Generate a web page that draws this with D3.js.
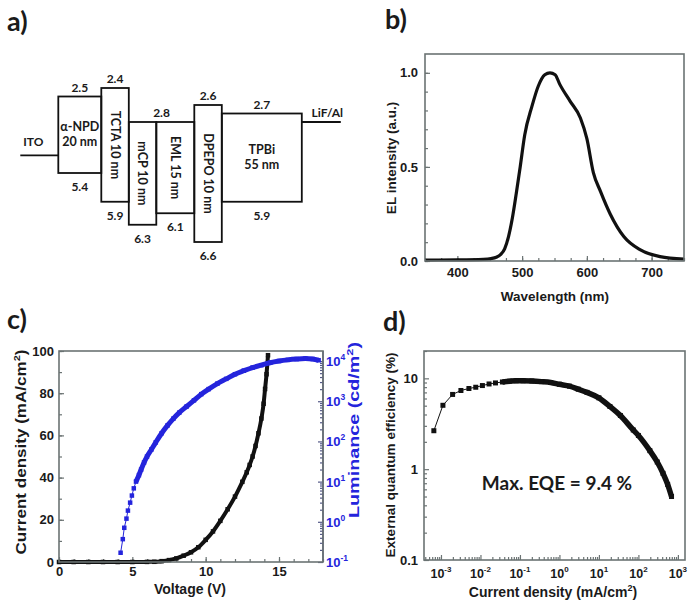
<!DOCTYPE html>
<html><head><meta charset="utf-8">
<script src="https://cdn.jsdelivr.net/npm/d3@7"></script>
<style>
body{margin:0;background:#fff}
svg{display:block}
text{font-family:"Liberation Sans",Arial,Helvetica,sans-serif;font-weight:bold;fill:#1a1a1a}
.cal{font-family:Lato,"Open Sans",sans-serif;font-weight:bold}
</style>
</head><body><svg id="fig" width="698" height="612"></svg>
<script>
// ---------- Panel a: energy level diagram ----------
const layerNames = ["α-NPD|20 nm", "TCTA 10 nm", "mCP 10 nm", "EML 15 nm", "DPEPO 10 nm", "TPBi|55 nm"];
const layerThick = [20, 10, 10, 15, 10, 55];
const layerLUMO = [2.5, 2.4, 2.8, 2.8, 2.6, 2.7];
const layerHOMO = [5.4, 5.9, 6.3, 6.1, 6.6, 5.9];
const layerRotated = [false, true, true, true, true, false];
const electrodeNames = ["ITO", "LiF/Al"];
const electrodeLevels = [4.5, 2.8];

// ---------- Panel b: EL spectrum ----------
const elWavelength = [350, 400, 440, 452, 460, 467, 473, 479, 485, 491, 497, 504, 515, 525, 535, 543, 551, 558, 574, 590, 600, 610, 621, 636, 657, 682, 713, 750];
const elIntensity = [0.005, 0.006, 0.009, 0.013, 0.02, 0.035, 0.065, 0.13, 0.23, 0.36, 0.5, 0.67, 0.82, 0.93, 0.99, 1.0, 0.99, 0.94, 0.85, 0.76, 0.65, 0.47, 0.37, 0.25, 0.13, 0.06, 0.023, 0.01];
const bXTicks = [400, 500, 600, 700];
const bYTicks = [0, 0.5, 1.0];

// ---------- Panel c: J-V-L ----------
const jvVoltage = [0, 1, 2, 3, 4, 5, 6, 6.5, 7, 7.5, 8, 8.5, 9, 9.5, 10, 10.5, 11, 11.5, 12, 12.5, 12.8, 13.0, 13.2, 13.4, 13.6, 13.8, 13.95, 14.05, 14.15, 14.25];
const jvCurrent = [0, 0, 0, 0, 0, 0, 0.05, 0.1, 0.4, 0.9, 1.7, 3.0, 4.6, 7.0, 10.5, 14.5, 19.5, 25, 31, 38, 42.5, 46, 50, 55, 61, 68, 75, 82, 89, 98];
const lvVoltage = [4.2, 4.35, 4.45, 4.6, 4.7, 4.85, 4.97, 5.1, 5.25, 5.45, 5.6, 5.8, 6.0, 6.3, 6.6, 7.0, 7.4, 7.8, 8.2, 8.7, 9.2, 9.7, 10.2, 10.8, 11.4, 12.0, 12.6, 13.2, 13.8, 14.4, 15.0, 15.6, 16.2, 16.8, 17.3, 17.7];
const lvLuminance = [0.17, 0.37, 0.71, 1.2, 1.9, 3.0, 4.5, 6.8, 10, 14.5, 20, 30, 42, 63, 95, 160, 250, 370, 520, 740, 1050, 1500, 2000, 2750, 3600, 4700, 5750, 6900, 7900, 9100, 10000, 10700, 11200, 11500, 11200, 10500];
const cXTicks = [0, 5, 10, 15];
const cYTicks = [0, 20, 40, 60, 80, 100];
const cY2Exps = [-1, 0, 1, 2, 3, 4];

// ---------- Panel d: EQE ----------
const eqeCurrent = [6.6e-4, 1.12e-3, 1.97e-3, 3.2e-3, 5.1e-3, 7.6e-3, 1.12e-2, 1.65e-2, 2.4e-2, 3.6e-2, 5.5e-2, 8e-2, 0.12, 0.2, 0.35, 0.6, 1.0, 1.8, 3, 5, 10, 19, 35, 74, 100, 195, 300, 420, 550, 690];
const eqeValue = [2.65, 5.05, 6.65, 7.35, 7.73, 7.98, 8.33, 8.67, 8.9, 9.12, 9.3, 9.4, 9.4, 9.35, 9.2, 9.0, 8.6, 8.2, 7.6, 7.0, 6.1, 4.9, 3.9, 2.7, 2.35, 1.6, 1.2, 0.9, 0.68, 0.5];
const dXExps = [-3, -2, -1, 0, 1, 2, 3];
const dYTicks = [0.1, 1, 10];
const eqeNote = "Max. EQE = 9.4 %";

const svg = d3.select("#fig");
const AXC = "#6b7373";
const BLUE = "#2424dc";

[["a)", 7, 31], ["b)", 385, 29], ["c)", 7, 329], ["d)", 383, 331]].forEach(([t, x, y]) =>
  svg.append("text").attr("class", "cal").attr("x", x).attr("y", y).attr("font-size", 27).text(t));

// ================= Panel a =================
(function () {
  const g = svg.append("g");
  const yE = d3.scaleLinear().domain([2.4, 2.8, 5.4, 6.6]).range([88, 122, 173, 242]);
  const wS = d3.scaleLinear().domain([10, 15, 20, 55]).range([27.5, 38, 43, 80]);
  const x0 = 58.3, lead = 38;
  const widths = layerThick.map(wS);
  const lefts = widths.map((w, i) => x0 + d3.sum(widths.slice(0, i)));
  const xEnd = lefts[lefts.length - 1] + widths[widths.length - 1];
  layerThick.forEach((t, i) => {
    g.append("rect").attr("x", lefts[i]).attr("y", yE(layerLUMO[i]))
      .attr("width", widths[i]).attr("height", yE(layerHOMO[i]) - yE(layerLUMO[i]))
      .attr("stroke", "#111").attr("stroke-width", 1.8).attr("fill", "none");
    const cx = lefts[i] + widths[i] / 2;
    const cy = (yE(layerLUMO[i]) + yE(layerHOMO[i])) / 2;
    if (layerRotated[i]) {
      g.append("text").attr("class", "cal").attr("font-size", 12.5).attr("text-anchor", "middle")
        .attr("transform", `translate(${cx - 4.5},${cy}) rotate(90)`).text(layerNames[i]);
    } else {
      const parts = layerNames[i].split("|");
      parts.forEach((p, k) => g.append("text").attr("class", "cal").attr("font-size", 12.5)
        .attr("text-anchor", "middle").attr("x", cx).attr("y", cy + (k - 0.5) * 15 + 4).text(p));
    }
    if (!(i > 0 && layerLUMO[i] === layerLUMO[i - 1])) {
      let span = widths[i];
      if (i < layerLUMO.length - 1 && layerLUMO[i + 1] === layerLUMO[i]) span += widths[i + 1];
      g.append("text").attr("class", "cal").attr("font-size", 12).attr("text-anchor", "middle")
        .attr("x", lefts[i] + span / 2).attr("y", yE(layerLUMO[i]) - 5).text(layerLUMO[i].toFixed(1));
    }
    g.append("text").attr("class", "cal").attr("font-size", 12).attr("text-anchor", "middle")
      .attr("x", cx).attr("y", yE(layerHOMO[i]) + 18).text(layerHOMO[i].toFixed(1));
  });
  const ex = [[x0 - lead, x0], [xEnd, xEnd + 39]];
  electrodeLevels.forEach((e, i) => {
    g.append("line").attr("x1", ex[i][0]).attr("x2", ex[i][1]).attr("y1", yE(e)).attr("y2", yE(e))
      .attr("stroke", "#111").attr("stroke-width", 1.8);
    g.append("text").attr("class", "cal").attr("font-size", 12).attr("text-anchor", "middle")
      .attr("x", (ex[i][0] + ex[i][1]) / 2 + (i === 0 ? -6 : 6)).attr("y", yE(e) - (i === 0 ? 9 : 5)).text(electrodeNames[i]);
  });
})();

function frame(x0, y0, x1, y1, col) {
  svg.append("rect").attr("x", x0).attr("y", y0).attr("width", x1 - x0).attr("height", y1 - y0)
    .attr("fill", "none").attr("stroke", col || AXC).attr("stroke-width", 1.6);
}
function styleAxis(s, col) {
  s.select(".domain").remove();
  s.attr("font-family", null).attr("font-size", null);
  s.selectAll("line").attr("stroke", col || AXC).attr("stroke-width", 1.2);
  s.selectAll("text").attr("font-size", 13).attr("fill", "#1a1a1a");
}
function logMinors(lo, hi) {
  const out = [];
  for (let e = Math.floor(Math.log10(lo)); e <= Math.ceil(Math.log10(hi)); e++)
    for (let m = 2; m <= 9; m++) { const v = m * Math.pow(10, e); if (v >= lo && v <= hi) out.push(v); }
  return out;
}
function sqMarks(g, pts, size, col) {
  g.selectAll(null).data(pts).enter().append("rect")
    .attr("x", d => d[0] - size / 2).attr("y", d => d[1] - size / 2)
    .attr("width", size).attr("height", size).attr("fill", col);
}
function supText(g, str, sup, tail, attrs, supSize) {
  const t = g.append("text");
  Object.entries(attrs).forEach(([k, v]) => t.attr(k, v));
  t.append("tspan").text(str);
  t.append("tspan").attr("dy", -6).attr("font-size", supSize || 9).text(sup);
  if (tail) t.append("tspan").attr("dy", 6).text(tail);
  return t;
}

// ================= Panel b =================
(function () {
  const x = d3.scaleLinear().domain([350, 750]).range([425, 684]);
  const y = d3.scaleLinear().domain([0, 1.1]).range([261, 54]);
  const g = svg.append("g");
  g.append("g").attr("transform", "translate(0,261)")
    .call(d3.axisBottom(x).tickValues(d3.range(350, 751, 25)).tickSizeInner(-3).tickSizeOuter(0).tickFormat(""))
    .call(s => styleAxis(s));
  g.append("g").attr("transform", "translate(0,261)")
    .call(d3.axisBottom(x).tickValues(bXTicks).tickSizeInner(-5).tickSizeOuter(0).tickPadding(7))
    .call(s => styleAxis(s));
  g.append("g").attr("transform", "translate(425,0)")
    .call(d3.axisLeft(y).tickValues(d3.range(0, 1.1, 0.1)).tickSizeInner(-3).tickSizeOuter(0).tickFormat(""))
    .call(s => styleAxis(s));
  g.append("g").attr("transform", "translate(425,0)")
    .call(d3.axisLeft(y).tickValues(bYTicks).tickSizeInner(-5).tickSizeOuter(0).tickPadding(7).tickFormat(d3.format(".1f")))
    .call(s => styleAxis(s));
  frame(425, 54, 684, 261);
  const line = d3.line().x(d => x(d[0])).y(d => y(d[1])).curve(d3.curveMonotoneX);
  g.append("path").datum(elWavelength.map((w, i) => [w, elIntensity[i]]))
    .attr("d", line).attr("fill", "none").attr("stroke", "#111").attr("stroke-width", 3.2);
  g.append("text").attr("x", 555).attr("y", 301).attr("text-anchor", "middle").attr("font-size", 13.5).text("Wavelength (nm)");
  g.append("text").attr("transform", "translate(396,158) rotate(-90)").attr("text-anchor", "middle").attr("font-size", 13.5).text("EL intensity (a.u.)");
})();

// ================= Panel c =================
(function () {
  const x = d3.scaleLinear().domain([0, 18]).range([59, 323]);
  const y = d3.scaleLinear().domain([0, 100]).range([562, 351]);
  const y2 = d3.scaleLog().domain([0.1, Math.pow(10, 4.25)]).range([562, 351]);
  const g = svg.append("g");
  g.append("g").attr("transform", "translate(0,562)")
    .call(d3.axisBottom(x).tickValues(d3.range(0, 18.01, 1)).tickSizeInner(-3).tickSizeOuter(0).tickFormat(""))
    .call(s => styleAxis(s));
  g.append("g").attr("transform", "translate(0,562)")
    .call(d3.axisBottom(x).tickValues(cXTicks).tickSizeInner(-5).tickSizeOuter(0).tickPadding(5))
    .call(s => styleAxis(s));
  g.append("g").attr("transform", "translate(59,0)")
    .call(d3.axisLeft(y).tickValues(d3.range(0, 101, 10)).tickSizeInner(-3).tickSizeOuter(0).tickFormat(""))
    .call(s => styleAxis(s));
  g.append("g").attr("transform", "translate(59,0)")
    .call(d3.axisLeft(y).tickValues(cYTicks).tickSizeInner(-5).tickSizeOuter(0).tickPadding(5))
    .call(s => styleAxis(s));
  const ax2 = g.append("g").attr("transform", "translate(323,0)");
  ax2.append("g").call(d3.axisRight(y2).tickValues(logMinors(0.1, Math.pow(10, 4.25))).tickSizeInner(-3).tickSizeOuter(0).tickFormat(""))
    .call(s => styleAxis(s, "#555a88"));
  ax2.append("g").call(d3.axisRight(y2).tickValues(cY2Exps.map(e => Math.pow(10, e))).tickSizeInner(-5).tickSizeOuter(0).tickFormat(""))
    .call(s => styleAxis(s, "#555a88"));
  cY2Exps.forEach(e => {
    supText(ax2, "10", e, null, { x: 3, y: y2(Math.pow(10, e)) + 5, "font-size": 13 }, 8.5).style("fill", BLUE);
  });
  frame(59, 351, 323, 562);
  g.append("line").attr("x1", 323).attr("x2", 323).attr("y1", 351).attr("y2", 562).attr("stroke", "#555a88").attr("stroke-width", 1.6);

  const jv = jvVoltage.map((v, i) => [x(v), y(jvCurrent[i])]);
  g.append("path").datum(jv).attr("d", d3.line().curve(d3.curveMonotoneX))
    .attr("fill", "none").attr("stroke", "#111").attr("stroke-width", 4);
  sqMarks(g, jv, 4.5, "#111");
  const lv = lvVoltage.map((v, i) => [x(v), y2(lvLuminance[i])]);
  g.append("path").datum(lv).attr("d", d3.line()).attr("fill", "none").attr("stroke", BLUE).attr("stroke-width", 1);
  g.append("path").datum(lv.filter((p, i) => lvVoltage[i] >= 5.25)).attr("d", d3.line().curve(d3.curveMonotoneX))
    .attr("fill", "none").attr("stroke", BLUE).attr("stroke-width", 5);
  sqMarks(g, lv, 4.5, BLUE);

  g.append("text").attr("x", 190).attr("y", 594).attr("text-anchor", "middle").attr("font-size", 14).text("Voltage (V)");
  supText(g, "Current density (mA/cm", "2", ")", { transform: "translate(26,452) rotate(-90)", "text-anchor": "middle", "font-size": 14, textLength: 205, lengthAdjust: "spacingAndGlyphs" });
  supText(g, "Luminance (cd/m", "2", ")", { transform: "translate(359,430) rotate(-90)", "text-anchor": "middle", "font-size": 14, textLength: 176, lengthAdjust: "spacingAndGlyphs" }).style("fill", BLUE);
})();

// ================= Panel d =================
(function () {
  const x = d3.scaleLog().domain([Math.pow(10, -3.43), Math.pow(10, 3.18)]).range([424, 685]);
  const y = d3.scaleLog().domain([0.1, 20]).range([560, 351]);
  const g = svg.append("g");
  const xd = x.domain();
  g.append("g").attr("transform", "translate(0,560)")
    .call(d3.axisBottom(x).tickValues(logMinors(xd[0], xd[1])).tickSizeInner(-3).tickSizeOuter(0).tickFormat(""))
    .call(s => styleAxis(s));
  g.append("g").attr("transform", "translate(0,560)")
    .call(d3.axisBottom(x).tickValues(dXExps.map(e => Math.pow(10, e))).tickSizeInner(-5).tickSizeOuter(0).tickFormat(""))
    .call(s => styleAxis(s));
  dXExps.forEach(e => supText(g, "10", e, null, { x: x(Math.pow(10, e)), y: 578, "text-anchor": "middle", "font-size": 12.5 }, 8));
  g.append("g").attr("transform", "translate(424,0)")
    .call(d3.axisLeft(y).tickValues(logMinors(0.1, 20)).tickSizeInner(-3).tickSizeOuter(0).tickFormat(""))
    .call(s => styleAxis(s));
  g.append("g").attr("transform", "translate(424,0)")
    .call(d3.axisLeft(y).tickValues(dYTicks).tickSizeInner(-5).tickSizeOuter(0).tickPadding(6).tickFormat(d => String(d)))
    .call(s => styleAxis(s));
  frame(424, 351, 685, 560);
  const pts = eqeCurrent.map((c, i) => [x(c), y(eqeValue[i])]);
  g.append("path").datum(pts).attr("d", d3.line()).attr("fill", "none").attr("stroke", "#111").attr("stroke-width", 1);
  g.append("path").datum(pts.filter((p, i) => eqeCurrent[i] >= 0.03)).attr("d", d3.line().curve(d3.curveMonotoneX))
    .attr("fill", "none").attr("stroke", "#111").attr("stroke-width", 5.5);
  sqMarks(g, pts, 5, "#111");
  g.append("text").attr("class", "cal").attr("x", 557).attr("y", 490).attr("text-anchor", "middle").attr("font-size", 19).text(eqeNote);
  supText(g, "Current density (mA/cm", "2", ")", { x: 553, y: 597, "text-anchor": "middle", "font-size": 14 });
  g.append("text").attr("transform", "translate(395,455) rotate(-90)").attr("text-anchor", "middle").attr("font-size", 13.5).text("External quantum efficiency (%)");
})();
</script>
</body></html>
